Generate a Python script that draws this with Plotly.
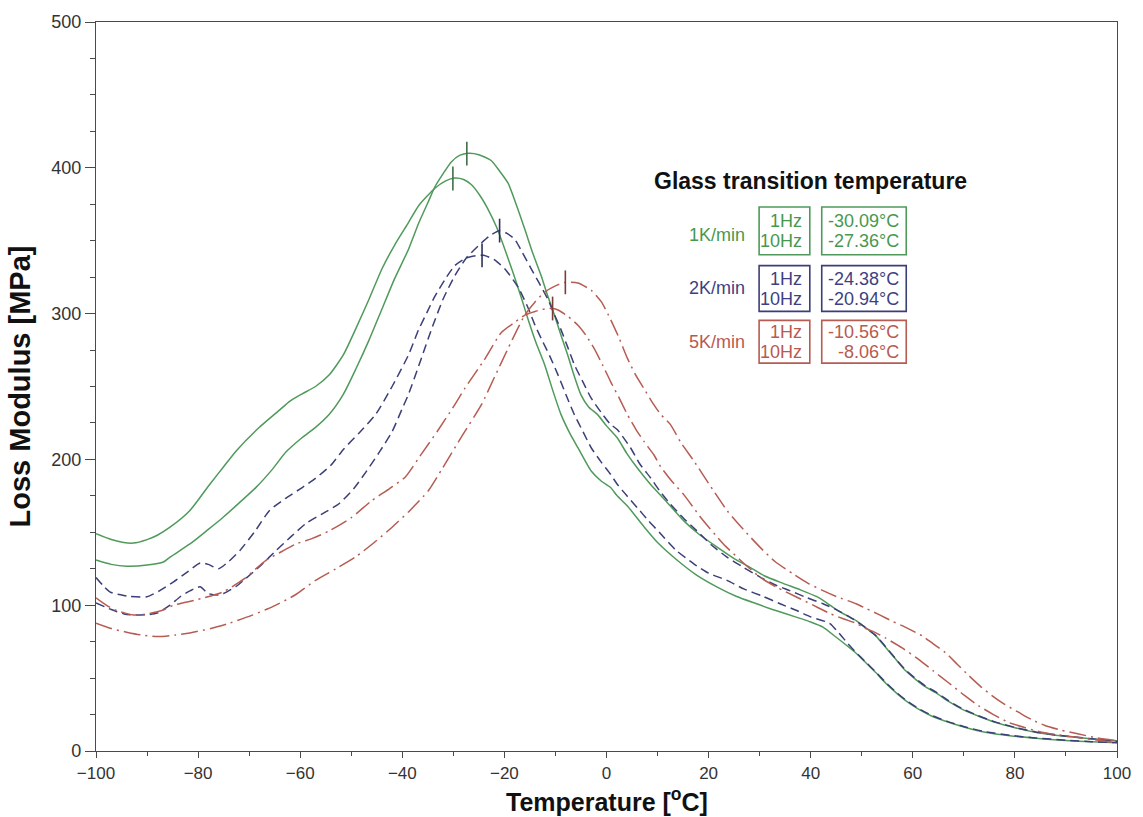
import numpy as np
import plotly.graph_objects as go

# ---------------- data ----------------
g1_x = [-100, -97, -94.6, -92.7, -90, -88, -85.5, -81.6, -77.7, -75, -72.5, -68, -64, -62, -59.6, -57, -54.3, -51.5,
        -49.1, -46.5, -44, -41.5, -38.8, -36.8, -33.6, -31.5, -29.8, -28, -26.5, -24.8, -23.2, -21.5, -19.9, -18.3,
        -16.7, -15.4, -13.8, -12.1, -10.5, -8.9, -7.2, -5.6, -3, -1, 0.8, 2.1, 4.1, 7.3, 10, 13.8, 17.5, 21.6, 25.5,
        29.4, 33, 37, 40, 42.4, 45, 47, 48.9, 50.8, 52.8, 54.7, 56.7, 58.8, 61.2, 64, 67, 70.5, 74.2, 79, 84, 90, 95, 100]
g1_y = [149, 145, 143, 142.6, 145, 148, 153.5, 165, 183, 195, 206, 222, 234, 240, 245, 250, 258, 272,
        289.7, 310, 330.6, 347, 362.4, 374, 386, 391, 393, 392, 388.5, 381, 371.5, 359, 344, 328,
        311, 296.5, 280, 264.8, 247, 230.7, 218, 208, 192, 185, 180.7, 175, 168, 154, 143, 131, 121, 112.6, 106,
        101, 96.5, 92, 88.5, 85, 78, 72.5, 67, 60.5, 53.6, 46.5, 40, 34, 28.6, 23.5, 19.7, 16, 12.9, 10.5, 8.8, 7.2, 6.3, 5.7]

g10_x = [-100, -97, -94, -90, -86.8, -85.5, -81.6, -78, -75.2, -72, -68.6, -65.5, -62.8, -59.6, -57, -54.3, -51.5,
         -49.1, -46.5, -44, -41.5, -38.8, -36.8, -35, -33.6, -32, -30.4, -28.8, -27.1, -25, -22.6, -21, -19.3, -17.7,
         -16, -14.4, -12.8, -11.5, -10.2, -8.9, -7.6, -6.3, -5, -3.5, -1.75, 0, 2.1, 4, 6, 8.6, 11.5, 15.1, 18, 21.6,
         25, 28.1, 31, 34.6, 38, 41.1, 43, 45, 47, 48.9, 50.8, 52.8, 54.7, 56.7, 58.6, 60.6, 62.5, 64.5, 67, 69.7,
         72.8, 76.1, 80, 84, 88, 91.7, 96, 100]
g10_y = [131, 128, 126.7, 127.5, 129.6, 133, 142, 152, 160, 170, 181, 193, 205, 215, 222, 231, 245,
         262, 282, 303, 324, 344, 362, 376, 387, 396, 404, 408.5, 410, 409, 405, 398, 389.6, 375,
         357.8, 341, 326, 312, 299, 285, 271.6, 257, 244.3, 236, 230.7, 223, 214.8, 204, 194.3, 183, 172, 158, 149, 140,
         132, 126, 120, 115, 110.5, 106, 102, 97, 93, 89.5, 84.5, 78.8, 71, 62.7, 55, 49, 44, 40, 34, 28.6,
         24, 19.7, 16, 12.9, 10.8, 9.5, 8, 7]

b1_x = [-100, -98.5, -97.2, -95, -93.3, -90, -87.5, -84.8, -82, -79.6, -78, -76, -74, -71.8, -69, -66, -63, -59.6,
        -57, -54, -51.5, -48.5, -45.2, -42, -38.8, -36.8, -35, -33.6, -31.6, -29.7, -27.7, -26, -24.1, -22, -19.9,
        -17.3, -15.5, -14, -12.8, -11, -9.5, -7.9, -6.3, -4.6, -3, -1, 0.8, 2.1, 4, 6, 8.2, 10.6, 13.5, 17.1, 20,
        23.6, 27, 30.7, 34, 37, 40, 43.7, 45.5, 47.2, 48.9, 50.8, 52.8, 54.7, 56.7, 58.8, 61.2, 64, 67, 70.5, 74.2,
        79, 84, 90, 95, 100]
b1_y = [119, 113, 109, 107, 106, 105.8, 110, 116, 123, 129, 128, 125, 130, 137.6, 150, 165, 173, 180.7,
        187, 196, 207, 218, 231, 250, 271.6, 289, 302, 312, 323.6, 333, 337.8, 339.5, 340, 337, 330.6,
        318, 305, 292, 283, 270, 258, 244, 230.7, 219, 208, 198, 189.8, 183, 175, 167, 158, 149, 138, 128.4, 122,
        117, 111, 106, 101, 96.7, 92, 87.6, 81, 74, 67.5, 61, 54, 47, 40.5, 34.5, 29, 24, 20, 16.3, 13.2,
        10.8, 9, 7.4, 6.4, 5.8]

b10_x = [-100, -97, -94.5, -92.7, -90, -88, -85.5, -83.5, -81.5, -79.6, -78, -76, -75, -72.5, -70.6, -67.5, -64.7,
         -61.8, -58.9, -55.5, -52.4, -49.5, -47, -44.5, -42, -40, -38.8, -36.5, -34.2, -32, -29.7, -27.5, -25.1, -23,
         -20.9, -19.5, -18, -16.5, -14.8, -13.2, -11.5, -10.3, -9, -7.6, -6.3, -4.6, -3, -1, 0.8, 2.1, 4.7, 6.5, 8.6,
         10.5, 12.5, 15, 17.7, 20.5, 23.6, 26.8, 30, 33, 35.9, 39, 42.4, 45, 47.6, 50, 52.8, 54.7, 56.7, 58.6, 60.6,
         62.5, 64.5, 67, 69.7, 72.8, 76.1, 80, 84, 88, 91.7, 96, 100]
b10_y = [101.5, 97, 94, 93.3, 93.5, 94.6, 100, 105.8, 110, 112.6, 108, 107, 108, 113, 118.5, 128, 137.6,
         147, 156, 163, 169.6, 180, 192, 205, 219, 235, 244.5, 267, 290, 310, 326, 338, 346.5, 353,
         357, 355, 351, 342, 331, 321, 310, 300, 289.7, 277, 265, 253, 242, 232, 224, 220.5, 208, 197, 187.5,
         178, 169.4, 160, 151, 141.5, 133, 126, 119.4, 114, 110, 105.5, 101, 97, 92, 86.5, 79, 71.5, 63, 55.5, 49.5,
         44.5, 40.5, 34.5, 29, 24.3, 20, 16.2, 13.1, 11, 9.6, 8, 6.5]

r1_x = [-100, -98, -96, -92.7, -90, -87, -84.8, -80, -75.2, -71, -66.7, -63.5, -60.8, -57.5, -54.3, -50, -46,
        -42.5, -39.4, -36.2, -33, -30, -27.7, -24, -20.6, -18, -16, -14, -12.1, -10.5, -9.5, -7.5, -5.6, -4, -2.4,
        -0.8, 0.8, 2.5, 4.1, 5.7, 7.3, 9.3, 10.6, 12.8, 15.1, 18.5, 22.9, 26.5, 30, 33.5, 37, 40.5, 43.7, 46.5, 48.9,
        50.2, 52.5, 54.7, 58, 61.2, 64, 67, 70, 72.9, 75.8, 78.7, 82, 85.2, 90, 94.2, 97, 100]
r1_y = [105, 100, 96.5, 93.3, 94, 96.5, 100, 104, 109, 118, 130.8, 137, 142, 146, 151, 160, 171.7,
        180, 188, 204, 220, 236, 249, 268, 287, 294, 299, 301.5, 303.2, 303.5, 302.5, 298, 292, 285, 276,
        265, 253.4, 242, 230.7, 221, 212.5, 203, 195, 185, 176, 160, 142, 130, 119.4, 112, 106, 100, 94.4, 90.5, 87.6,
        85, 81.5, 77.4, 70.5, 62.7, 55, 46.8, 38.5, 31, 25, 19.7, 16, 12.9, 10.3, 8.4, 7, 5.7]

r10_x = [-100, -97, -94, -91.3, -88, -84.5, -81.6, -77.5, -73.8, -69.5, -65.4, -61, -57, -53, -49.2, -45.5, -42,
         -38.5, -34.9, -32.3, -28.5, -24.5, -22, -19.3, -17.5, -16, -14, -12.1, -10, -8, -5.6, -3, -1, 0.8, 2.5, 4.1,
         5.7, 7.3, 9, 10.6, 12.5, 14.5, 17.1, 20.3, 23.6, 26.8, 30, 33, 36.5, 39.5, 42.4, 45, 48.9, 51, 53.4, 56,
         58.5, 61.9, 64, 66.4, 68.7, 71, 73.2, 75.5, 78, 80.7, 83.3, 85.9, 89, 92.3, 96, 100]
r10_y = [87.7, 84, 81.5, 79.7, 78.5, 79.5, 81, 84, 87.7, 93, 99, 107, 117, 125, 133, 143, 153.5,
         165, 178.5, 193, 215, 237.5, 256, 276, 289, 299, 308, 314.7, 319, 321.5, 321, 316, 308, 296, 283, 269.3,
         258, 248.8, 239, 231, 224, 212, 199, 182, 165, 152, 140, 130, 121.6, 115, 110, 106, 101, 97.5, 93.5, 89,
         85, 78.8, 73.5, 67.5, 59.5, 51.6, 44.5, 38, 32, 26.6, 21.5, 17.5, 14.3, 11.8, 9, 7]

rates = ["1K/min", "2K/min", "5K/min"]
tg_1hz = [-30.09, -24.38, -10.56]
tg_10hz = [-27.36, -20.94, -8.06]
freq_labels = ["1Hz", "10Hz"]

x_ticks = [-100, -80, -60, -40, -20, 0, 20, 40, 60, 80, 100]
y_ticks = [0, 100, 200, 300, 400, 500]

# ---------------- styling ----------------
GREEN = "#4f9a5b"
BLUE = "#3b3f78"
RED = "#b65c52"
GREEN_T = "#47984f"
BLUE_T = "#3d3f82"
RED_T = "#b85a50"

series = [
    (g1_x, g1_y, GREEN, "solid", tg_1hz[0], "#3f6f46"),
    (g10_x, g10_y, GREEN, "solid", tg_10hz[0], "#3f6f46"),
    (b1_x, b1_y, BLUE, "9px,5px", tg_1hz[1], "#2e3160"),
    (b10_x, b10_y, BLUE, "9px,5px", tg_10hz[1], "#2e3160"),
    (r1_x, r1_y, RED, "17px,5px,2px,5px", tg_1hz[2], "#7a3d37"),
    (r10_x, r10_y, RED, "17px,5px,2px,5px", tg_10hz[2], "#7a3d37"),
]

fig = go.Figure()
for xs, ys, col, dash, tg, mcol in series:
    fig.add_trace(go.Scatter(x=xs, y=ys, mode="lines",
                             line=dict(color=col, width=1.5, dash=dash, shape="spline", smoothing=0.6),
                             showlegend=False, hoverinfo="skip"))
for xs, ys, col, dash, tg, mcol in series:
    fig.add_trace(go.Scatter(x=[tg], y=[float(np.interp(tg, xs, ys))], mode="markers",
                             marker=dict(symbol="line-ns", size=17, line=dict(color=mcol, width=1.6)),
                             showlegend=False, hoverinfo="skip"))

# ---------------- layout ----------------
L, R, T, B = 96, 20, 18, 66
W, H = 1143, 817
PW, PH = W - L - R, H - T - B


def px(xp):
    return (xp - L) / PW


def py(yp):
    return (H - B - yp) / PH


fnt = "Liberation Sans, Arial, sans-serif"
axis_common = dict(showline=True, linecolor="#4a4a4a", linewidth=1.3, mirror=True,
                   tickwidth=1.2, tickcolor="#4a4a4a", ticks="outside",
                   showgrid=False, zeroline=False)

fig.update_layout(
    width=W, height=H,
    margin=dict(l=L, r=R, t=T, b=B),
    paper_bgcolor="white", plot_bgcolor="white",
    xaxis=dict(range=[-100, 100], tickvals=x_ticks, ticklen=6,
               tickfont=dict(family=fnt, size=17, color="#333333"),
               minor=dict(dtick=10, ticks="outside", ticklen=4, tickcolor="#4a4a4a", tickwidth=1.1),
               **axis_common),
    yaxis=dict(range=[0, 500], tickvals=y_ticks, ticklen=10,
               tickfont=dict(family=fnt, size=18, color="#333333"),
               minor=dict(dtick=25, ticks="outside", ticklen=5, tickcolor="#4a4a4a", tickwidth=1.1),
               title=dict(text="<b>Loss Modulus [MPa]</b>", standoff=12,
                          font=dict(family=fnt, size=29, color="#111111")),
               **axis_common),
)

annotations = [
    dict(x=px(610), y=py(800), xref="paper", yref="paper", xanchor="center", yanchor="middle",
         text="<b>Temperature [<sup>o</sup>C]</b>", showarrow=False,
         font=dict(family=fnt, size=25, color="#111111")),
    dict(x=px(655), y=py(178), xref="paper", yref="paper", xanchor="left", yanchor="middle",
         text="<b>Glass transition temperature</b>", showarrow=False,
         font=dict(family=fnt, size=23, color="#111111")),
]
shapes = []
rows = [(204, 252, 231.7, 218, 238), (263, 309, 285, 276.7, 296.7), (318, 361, 340, 330, 350)]
tcols = [GREEN_T, BLUE_T, RED_T]
lcols = [GREEN, BLUE, RED]
for i, (y0, y1, ylab, yl1, yl2) in enumerate(rows):
    c = tcols[i]
    annotations.append(dict(x=px(751), y=py(ylab), xref="paper", yref="paper", xanchor="right", yanchor="middle",
                            text=rates[i], showarrow=False, font=dict(family=fnt, size=18, color=c)))
    for yl, lab in zip((yl1, yl2), freq_labels):
        annotations.append(dict(x=px(808), y=py(yl), xref="paper", yref="paper", xanchor="right", yanchor="middle",
                                text=lab, showarrow=False, font=dict(family=fnt, size=18, color=c)))
    for yl, tg in zip((yl1, yl2), (tg_1hz[i], tg_10hz[i])):
        annotations.append(dict(x=px(906), y=py(yl), xref="paper", yref="paper", xanchor="right", yanchor="middle",
                                text=f"{tg:.2f}°C", showarrow=False, font=dict(family=fnt, size=18, color=c)))
    for (xa, xb) in ((763, 814), (826, 911)):
        shapes.append(dict(type="rect", xref="paper", yref="paper", x0=px(xa), x1=px(xb), y0=py(y1), y1=py(y0),
                           line=dict(color=lcols[i], width=1.6), fillcolor="rgba(0,0,0,0)"))

fig.update_layout(annotations=annotations, shapes=shapes)
fig.write_html("out.html")
